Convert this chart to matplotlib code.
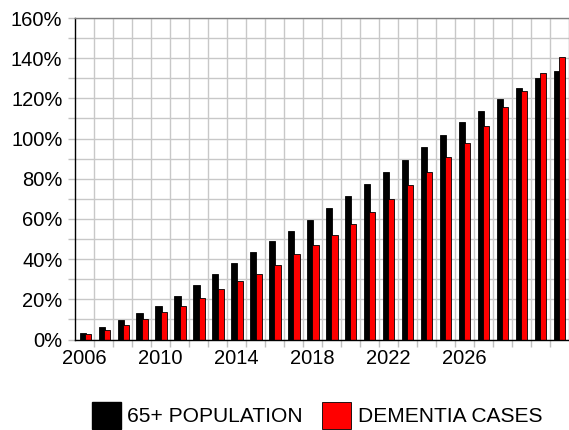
import numpy as np
from matplotlib import pyplot as plt
from matplotlib.patches import Patch

plt.rcParams['font.family'] = ['Liberation Sans', 'DejaVu Sans']

years = list(range(2006, 2032))
population = [3.0, 6.0, 9.6, 13.0, 16.9, 21.4, 27.1, 32.6, 37.9, 43.4, 48.9, 54.0, 59.5,
              65.3, 71.3, 77.4, 83.3, 89.2, 95.7, 102.0, 108.0, 113.8, 119.8, 125.3, 130.1, 133.7]
dementia = [2.5, 4.6, 7.1, 10.1, 13.6, 16.8, 20.6, 25.1, 29.1, 32.7, 37.2, 42.4, 47.0,
            52.1, 57.3, 63.3, 69.8, 77.1, 83.4, 91.0, 97.7, 106.3, 115.7, 123.9, 132.6, 140.6]
label_years = [2006, 2010, 2014, 2018, 2022, 2026]

fig = plt.figure(figsize=(5.69, 4.30), dpi=100)
ax = fig.add_axes([75/569, 1-339.5/430, 493.5/569, 321.5/430])

x = np.arange(len(years))
w = 0.32
ax.bar(x - 0.1, population, w, color='black', edgecolor='black', linewidth=0.6, zorder=3)
ax.bar(x + 0.17, dementia, w, color='#ff0000', edgecolor='black', linewidth=0.6, zorder=4)

ax.set_xlim(-0.5, len(years) - 0.5)
ax.set_ylim(0, 160)

ax.set_xticks([years.index(y) for y in label_years])
ax.set_xticklabels([str(y) for y in label_years])
ax.set_xticks(x[:-1] + 0.5, minor=True)
ax.tick_params(axis='x', which='major', length=0, pad=7, labelsize=14.5)
ax.tick_params(axis='x', which='minor', length=5, color='#c0c0c0', width=1)

ax.set_yticks(np.arange(0, 161, 10))
ax.set_yticklabels([f"{v}%" if v % 20 == 0 else "" for v in range(0, 161, 10)])
ax.tick_params(axis='y', length=5, color='#c0c0c0', width=1, pad=4, labelsize=14.5)

ax.grid(True, axis='y', which='major', color='#c8c8c8', linewidth=1, zorder=0)
ax.grid(True, axis='x', which='minor', color='#c8c8c8', linewidth=1, zorder=0)
ax.set_axisbelow(True)

ax.spines['left'].set_color('black')
ax.spines['bottom'].set_color('black')
ax.spines['top'].set_color('#808080')
ax.spines['right'].set_color('#a0a0a0')
for s in ax.spines.values():
    s.set_linewidth(1)
    s.set_zorder(5)

handles = [Patch(facecolor='black', edgecolor='black', label='65+ POPULATION'),
           Patch(facecolor='#ff0000', edgecolor='black', linewidth=0.6, label='DEMENTIA CASES')]
fig.legend(handles=handles, loc='center', bbox_to_anchor=(0.557, 0.034), ncol=2,
           frameon=False, fontsize=15.1, handlelength=1.38, handleheight=1.65,
           handletextpad=0.3, columnspacing=0.95, borderpad=0, borderaxespad=0)

fig.savefig('out.png', dpi=100)
